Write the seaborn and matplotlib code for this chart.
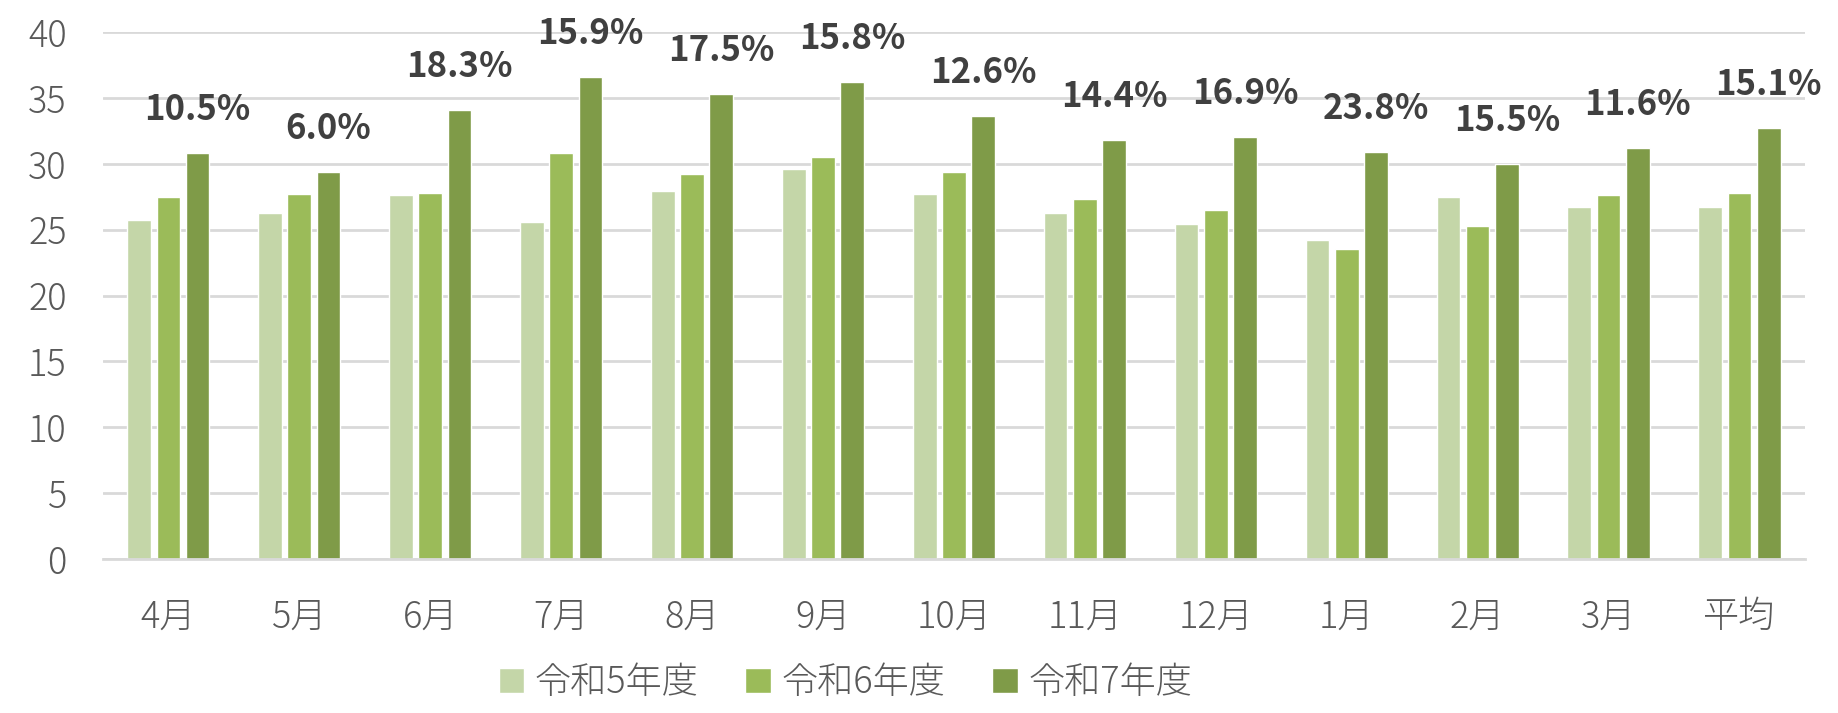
import pandas as pd
import matplotlib.pyplot as plt
import seaborn as sns

months = ["4月", "5月", "6月", "7月", "8月", "9月", "10月", "11月", "12月", "1月", "2月", "3月", "平均"]
r5 = [25.7, 26.3, 27.6, 25.6, 27.9, 29.6, 27.7, 26.3, 25.4, 24.2, 27.5, 26.7, 26.7]
r6 = [27.5, 27.7, 27.8, 30.8, 29.2, 30.5, 29.4, 27.3, 26.5, 23.5, 25.3, 27.6, 27.8]
r7 = [30.8, 29.4, 34.1, 36.6, 35.3, 36.2, 33.6, 31.8, 32.0, 30.9, 30.0, 31.2, 32.7]
growth = ["10.5%", "6.0%", "18.3%", "15.9%", "17.5%", "15.8%", "12.6%", "14.4%", "16.9%", "23.8%", "15.5%", "11.6%", "15.1%"]
years = ["令和5年度", "令和6年度", "令和7年度"]
colors = ["#c4d6a8", "#9bbb59", "#7f9b48"]

rows = []
for year, vals in zip(years, [r5, r6, r7]):
    for m, v in zip(months, vals):
        rows.append({"month": m, "value": v, "year": year})
df = pd.DataFrame(rows)

sns.set_style("white")
plt.rcParams['font.family'] = ['Noto Sans CJK JP', 'DejaVu Sans']

fig = plt.figure(figsize=(18.38, 7.13), dpi=100)
ax = fig.add_axes([0.056, 0.216, 0.926, 0.739])

sns.barplot(data=df, x="month", y="value", hue="year", palette=colors,
            width=0.67, gap=0.19, saturation=1, ax=ax, order=months, hue_order=years)

ax.set_ylim(0, 40)
ax.set_xlim(-0.5, 12.5)
ax.set_yticks(range(0, 41, 5))
ax.yaxis.grid(True, color="#d9d9d9", linewidth=2)
ax.set_axisbelow(True)
for s in ["top", "right", "left"]:
    ax.spines[s].set_visible(False)
ax.spines["bottom"].set_color("#d9d9d9")
ax.spines["bottom"].set_linewidth(2)
ax.tick_params(axis="both", length=0, labelsize=26, labelcolor="#595959")
ax.tick_params(axis="x", pad=28)
ax.tick_params(axis="y", pad=26)
for lbl in ax.get_xticklabels() + ax.get_yticklabels():
    lbl.set_fontweight("light")
ax.set_xlabel("")
ax.set_ylabel("")

# growth labels over the 令和7年度 bars
for bar, txt in zip(ax.containers[2], growth):
    ax.text(bar.get_x() + bar.get_width() / 2, bar.get_height() + 3.3, txt,
            ha="center", va="center", fontsize=25, fontweight="bold",
            color="#404040", clip_on=False)

leg = ax.legend(loc="lower center", bbox_to_anchor=(0.46, -0.005), bbox_transform=fig.transFigure,
                ncol=3, frameon=False, fontsize=26, handlelength=0.7, handleheight=0.7,
                handletextpad=0.3, columnspacing=1.3, labelcolor="#595959", borderaxespad=0)
for t in leg.get_texts():
    t.set_fontweight("light")

plt.savefig("out.png", dpi=100)
